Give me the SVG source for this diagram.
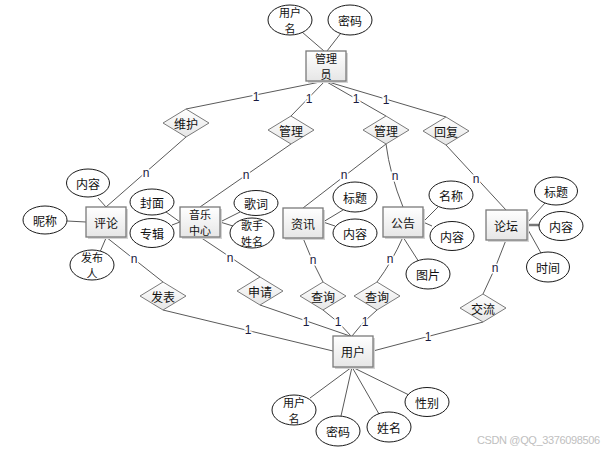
<svg xmlns="http://www.w3.org/2000/svg" width="616" height="451" viewBox="0 0 616 451">
<defs>
<linearGradient id="g" x1="0" y1="0" x2="0" y2="1"><stop offset="0" stop-color="#ffffff"/><stop offset="1" stop-color="#e6e6e6"/></linearGradient>
<style>
.ent{fill:url(#g);stroke:#7a7a7a;stroke-width:1.3}
.sh{fill:#d4d4d4}
.rel{fill:url(#g);stroke:#7a7a7a;stroke-width:1}
.att{fill:#fff;stroke:#1a1a1a;stroke-width:1}
.t{font-family:"Noto Sans CJK SC","Noto Sans",sans-serif;font-size:12px;fill:#111;text-anchor:middle;dominant-baseline:central}
.t2{font-size:11px}
.c line,.c path{stroke:#5a5a5a;stroke-width:1;fill:none}
.lb{font-family:"Liberation Sans",Arial,sans-serif;font-size:12px;fill:#1a1a40;text-anchor:middle;dominant-baseline:central;stroke:#fff;stroke-width:3;paint-order:stroke}
</style>
</defs>
<rect width="616" height="451" fill="#fff"/>
<g id="connectors" class="c">
<line x1="302" y1="32" x2="324" y2="51"/>
<line x1="341" y1="33" x2="327" y2="51"/>
<line x1="325" y1="81" x2="186" y2="109"/>
<line x1="325" y1="81" x2="291" y2="116"/>
<line x1="325" y1="81" x2="386" y2="116"/>
<line x1="325" y1="81" x2="446" y2="117"/>
<line x1="186" y1="137" x2="106" y2="207"/>
<line x1="291" y1="144" x2="200" y2="207"/>
<line x1="386" y1="144" x2="303" y2="208"/>
<path d="M386,144 Q390,175 403,207"/>
<line x1="446" y1="145" x2="506" y2="210"/>
<line x1="98" y1="198" x2="106" y2="207"/>
<line x1="67" y1="221" x2="86" y2="222"/>
<line x1="100" y1="252" x2="106" y2="238"/>
<line x1="106" y1="237" x2="163" y2="282"/>
<line x1="166" y1="212" x2="180" y2="222"/>
<line x1="172" y1="225" x2="180" y2="222"/>
<line x1="220" y1="222" x2="240" y2="212"/>
<line x1="220" y1="222" x2="233" y2="226"/>
<line x1="200" y1="237" x2="260" y2="277"/>
<line x1="323" y1="222" x2="343" y2="210"/>
<line x1="323" y1="222" x2="335" y2="226"/>
<path d="M303,238 Q312,262 323,282"/>
<line x1="423" y1="222" x2="438" y2="207"/>
<line x1="423" y1="222" x2="432" y2="226"/>
<line x1="403" y1="237" x2="419" y2="262"/>
<path d="M403,237 Q392,262 377,282"/>
<line x1="527" y1="223" x2="545" y2="203"/>
<line x1="527" y1="225" x2="539" y2="225" style="stroke-width:2.5;stroke:#777"/>
<line x1="527" y1="228" x2="541" y2="253"/>
<path d="M506,240 Q496,268 483,294"/>
<line x1="163" y1="310" x2="333" y2="351"/>
<line x1="260" y1="305" x2="350" y2="336"/>
<path d="M323,310 Q340,322 351,336"/>
<path d="M377,310 Q362,322 352,336"/>
<line x1="483" y1="322" x2="373" y2="351"/>
<line x1="352" y1="367" x2="310" y2="398"/>
<line x1="352" y1="367" x2="341" y2="416"/>
<line x1="352" y1="367" x2="379" y2="414"/>
<line x1="352" y1="367" x2="409" y2="395"/>
<text class="lb" x="256" y="97">1</text>
<text class="lb" x="309" y="99">1</text>
<text class="lb" x="356" y="99">1</text>
<text class="lb" x="386" y="100">1</text>
<text class="lb" x="146" y="173">n</text>
<text class="lb" x="246" y="175">n</text>
<text class="lb" x="344" y="175">n</text>
<text class="lb" x="395" y="176">n</text>
<text class="lb" x="476" y="179">n</text>
<text class="lb" x="134" y="259">n</text>
<text class="lb" x="230" y="258">n</text>
<text class="lb" x="313" y="260">n</text>
<text class="lb" x="390" y="259">n</text>
<text class="lb" x="495" y="268">n</text>
<text class="lb" x="248" y="330">1</text>
<text class="lb" x="306" y="322">1</text>
<text class="lb" x="338" y="322">1</text>
<text class="lb" x="365" y="322">1</text>
<text class="lb" x="428" y="337">1</text>
</g>
<g id="admin"><rect class="sh" x="308" y="53" width="40" height="30"/><rect class="ent" x="306" y="51" width="40" height="30"/><text class="t t2" x="326" y="58">管理</text><text class="t t2" x="326" y="74">员</text></g>
<g id="admin-username"><ellipse class="att" cx="290" cy="20" rx="22" ry="15"/><text class="t t2" x="290" y="12">用户</text><text class="t t2" x="290" y="28">名</text></g>
<g id="admin-password"><ellipse class="att" cx="350" cy="20" rx="22" ry="15"/><text class="t" x="350" y="20">密码</text></g>
<g id="rel-weihu"><polygon class="rel" points="186,109 209,123 186,137 163,123"/><text class="t" x="186" y="123">维护</text></g>
<g id="rel-guanli1"><polygon class="rel" points="291,116 314,130 291,144 268,130"/><text class="t" x="291" y="130">管理</text></g>
<g id="rel-guanli2"><polygon class="rel" points="386,116 409,130 386,144 363,130"/><text class="t" x="386" y="130">管理</text></g>
<g id="rel-huifu"><polygon class="rel" points="446,117 469,131 446,145 423,131"/><text class="t" x="446" y="131">回复</text></g>
<g id="comment"><rect class="sh" x="88" y="209" width="40" height="30"/><rect class="ent" x="86" y="207" width="40" height="30"/><text class="t" x="106" y="222">评论</text></g>
<g id="comment-content"><ellipse class="att" cx="88" cy="183" rx="21.5" ry="14"/><text class="t" x="88" y="183">内容</text></g>
<g id="comment-nick"><ellipse class="att" cx="45" cy="220" rx="22" ry="14"/><text class="t" x="45" y="220">昵称</text></g>
<g id="comment-author"><ellipse class="att" cx="92" cy="265" rx="22" ry="15"/><text class="t t2" x="92" y="257">发布</text><text class="t t2" x="92" y="273">人</text></g>
<g id="music"><rect class="sh" x="182" y="209" width="40" height="30"/><rect class="ent" x="180" y="207" width="40" height="30"/><text class="t t2" x="200" y="214">音乐</text><text class="t t2" x="200" y="230">中心</text></g>
<g id="music-cover"><ellipse class="att" cx="152" cy="202" rx="22" ry="13"/><text class="t" x="152" y="202">封面</text></g>
<g id="music-album"><ellipse class="att" cx="152" cy="233" rx="22" ry="14.5"/><text class="t" x="152" y="233">专辑</text></g>
<g id="music-lyrics"><ellipse class="att" cx="256" cy="203" rx="22" ry="12.5"/><text class="t" x="256" y="203">歌词</text></g>
<g id="music-singer"><ellipse class="att" cx="252" cy="233" rx="22" ry="15"/><text class="t t2" x="252" y="225">歌手</text><text class="t t2" x="252" y="241">姓名</text></g>
<g id="news"><rect class="sh" x="285" y="210" width="40" height="30"/><rect class="ent" x="283" y="208" width="40" height="30"/><text class="t" x="303" y="223">资讯</text></g>
<g id="news-title"><ellipse class="att" cx="355" cy="197" rx="22" ry="15"/><text class="t" x="355" y="197">标题</text></g>
<g id="news-content"><ellipse class="att" cx="355" cy="233" rx="22" ry="14"/><text class="t" x="355" y="233">内容</text></g>
<g id="notice"><rect class="sh" x="385" y="209" width="40" height="30"/><rect class="ent" x="383" y="207" width="40" height="30"/><text class="t" x="403" y="222">公告</text></g>
<g id="notice-name"><ellipse class="att" cx="451" cy="195" rx="22" ry="14"/><text class="t" x="451" y="195">名称</text></g>
<g id="notice-content"><ellipse class="att" cx="452" cy="236" rx="22" ry="14.5"/><text class="t" x="452" y="236">内容</text></g>
<g id="notice-image"><ellipse class="att" cx="428" cy="274" rx="22" ry="15"/><text class="t" x="428" y="274">图片</text></g>
<g id="forum"><rect class="sh" x="488" y="212" width="41" height="30"/><rect class="ent" x="486" y="210" width="41" height="30"/><text class="t" x="506" y="225">论坛</text></g>
<g id="forum-title"><ellipse class="att" cx="556" cy="191" rx="21.5" ry="14"/><text class="t" x="556" y="191">标题</text></g>
<g id="forum-content"><ellipse class="att" cx="561" cy="226" rx="22" ry="14.5"/><text class="t" x="561" y="226">内容</text></g>
<g id="forum-time"><ellipse class="att" cx="548" cy="267" rx="21.5" ry="15"/><text class="t" x="548" y="267">时间</text></g>
<g id="rel-fabiao"><polygon class="rel" points="163,282 186,296 163,310 140,296"/><text class="t" x="163" y="296">发表</text></g>
<g id="rel-shenqing"><polygon class="rel" points="260,277 283,291 260,305 237,291"/><text class="t" x="260" y="291">申请</text></g>
<g id="rel-chaxun1"><polygon class="rel" points="323,282 346,296 323,310 300,296"/><text class="t" x="323" y="296">查询</text></g>
<g id="rel-chaxun2"><polygon class="rel" points="377,282 400,296 377,310 354,296"/><text class="t" x="377" y="296">查询</text></g>
<g id="rel-jiaoliu"><polygon class="rel" points="483,294 506,308 483,322 460,308"/><text class="t" x="483" y="308">交流</text></g>
<g id="user"><rect class="sh" x="335" y="338" width="40" height="31"/><rect class="ent" x="333" y="336" width="40" height="31"/><text class="t" x="353" y="351">用户</text></g>
<g id="user-username"><ellipse class="att" cx="294" cy="410" rx="22" ry="15"/><text class="t t2" x="294" y="402">用户</text><text class="t t2" x="294" y="418">名</text></g>
<g id="user-password"><ellipse class="att" cx="338" cy="431" rx="22" ry="15"/><text class="t" x="338" y="431">密码</text></g>
<g id="user-name"><ellipse class="att" cx="389" cy="427" rx="22" ry="15"/><text class="t" x="389" y="427">姓名</text></g>
<g id="user-gender"><ellipse class="att" cx="427" cy="402" rx="22" ry="14.5"/><text class="t" x="427" y="402">性别</text></g>
<text x="477" y="444" font-family="Liberation Sans, Arial, sans-serif" font-size="11" fill="#c0c0c0" textLength="123">CSDN @QQ_3376098506</text>
</svg>
